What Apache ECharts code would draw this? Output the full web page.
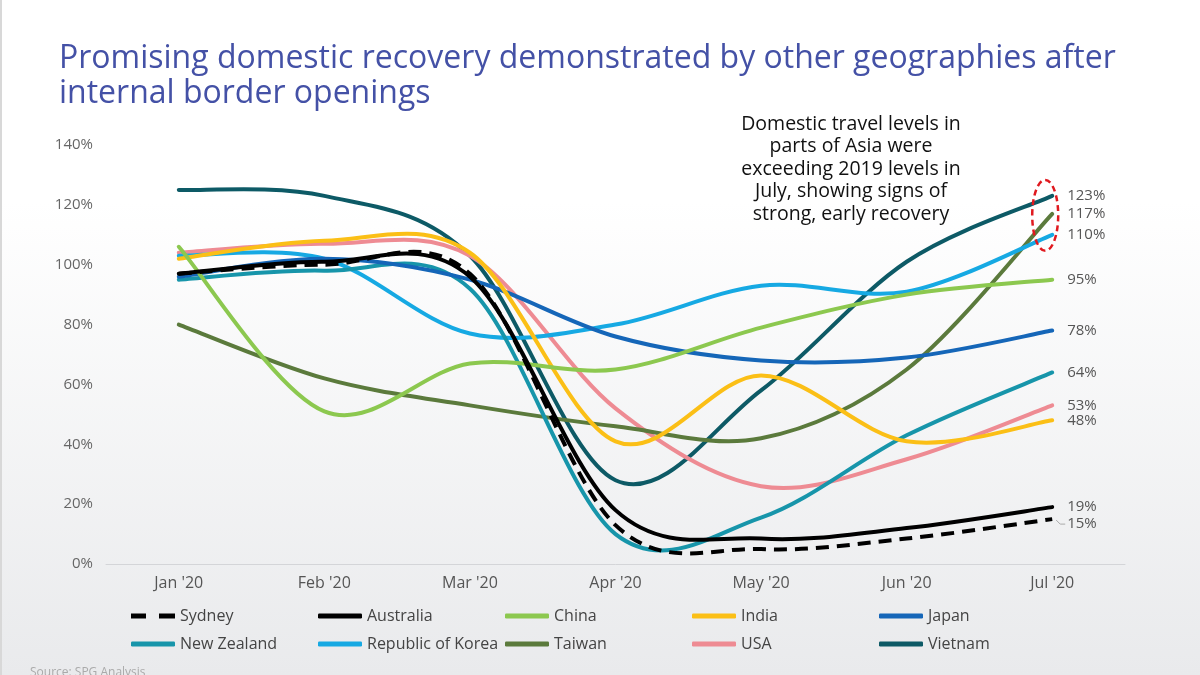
<!DOCTYPE html>
<html>
<head>
<meta charset="utf-8">
<script src="https://cdn.jsdelivr.net/npm/echarts@6/dist/echarts.min.js"></script>
<style>
html,body{margin:0;padding:0;width:1200px;height:675px;overflow:hidden;}
#chart{width:1200px;height:675px;background:linear-gradient(to bottom,#ffffff 0%,#ffffff 30%,#e9eaec 100%);}
</style>
</head>
<body>
<div id="chart"></div>
<script>
const months = ["Jan '20", "Feb '20", "Mar '20", "Apr '20", "May '20", "Jun '20", "Jul '20"];
const yTicks = [0, 20, 40, 60, 80, 100, 120, 140];

const sydney      = [97, 100, 97, 13, 5, 8.5, 15];
const australia   = [97, 101, 96, 18, 8.5, 12, 19];
const china       = [106, 51, 67, 65, 79, 90, 95];
const india       = [102, 108, 104, 41, 63, 41, 48];
const japan       = [96, 102, 95, 76, 68, 69, 78];
const newZealand  = [95, 98, 92, 10, 15.5, 43, 64];
const korea       = [103, 102, 77, 80, 93, 91, 110];
const taiwan      = [80, 62, 53, 46, 42, 65, 117];
const usa         = [104, 107, 103, 52, 26, 35, 53];
const vietnam     = [125, 123, 103, 28, 58, 101, 123];

const seriesNames = ["Sydney", "Australia", "China", "India", "Japan", "New Zealand", "Republic of Korea", "Taiwan", "USA", "Vietnam"];
const seriesData = [sydney, australia, china, india, japan, newZealand, korea, taiwan, usa, vietnam];
const seriesColors = ["#000000", "#000000", "#8cc84f", "#fbbf16", "#1566b8", "#1795aa", "#16a9e3", "#5b7a3c", "#ee8b93", "#0d5a66"];

const titleText = "Promising domestic recovery demonstrated by other geographies after\ninternal border openings";
const noteText = "Domestic travel levels in\nparts of Asia were\nexceeding 2019 levels in\nJuly, showing signs of\nstrong, early recovery";
const sourceText = "Source: SPG Analysis";

const FONT = '"Open Sans", Lato, sans-serif';

const chart = echarts.init(document.getElementById('chart'), null, {renderer: 'canvas'});

// Smooth (Catmull-Rom style) path through the data points, positioned with the axes' scales
function makeRenderer(values, color, name) {
  return function (params, api) {
    if (params.dataIndex !== 0) return null;
    const pts = values.map((v, i) => api.coord([i, v]));
    let d = 'M' + pts[0][0] + ',' + pts[0][1];
    for (let i = 0; i < pts.length - 1; i++) {
      const p0 = pts[i - 1] || pts[i];
      const p1 = pts[i];
      const p2 = pts[i + 1];
      const p3 = pts[i + 2] || pts[i + 1];
      const c1x = p1[0] + (p2[0] - p0[0]) / 6;
      const c1y = p1[1] + (p2[1] - p0[1]) / 6;
      const c2x = p2[0] - (p3[0] - p1[0]) / 6;
      const c2y = p2[1] - (p3[1] - p1[1]) / 6;
      d += ' C' + c1x + ',' + c1y + ' ' + c2x + ',' + c2y + ' ' + p2[0] + ',' + p2[1];
    }
    const last = pts[pts.length - 1];
    const isSyd = name === 'Sydney';
    const children = [
      {
        type: 'path',
        shape: {pathData: d},
        style: {
          fill: null,
          stroke: color,
          lineWidth: 4,
          lineDash: isSyd ? [13, 8] : null,
          lineCap: isSyd ? 'butt' : 'round',
          lineJoin: 'round'
        }
      },
      {
        type: 'text',
        style: {
          text: values[values.length - 1] + '%',
          x: last[0] + 15,
          y: last[1] + (isSyd ? 5 : 0),
          verticalAlign: 'middle',
          fill: '#555',
          font: '15px ' + FONT
        }
      }
    ];
    if (isSyd) {
      children.push({
        type: 'polyline',
        shape: {points: [[last[0] + 4, last[1] + 1], [last[0] + 8, last[1] + 5], [last[0] + 13, last[1] + 5]]},
        style: {stroke: '#aaa', lineWidth: 1, fill: null}
      });
    }
    return {type: 'group', children: children};
  };
}

const series = seriesNames.map((name, i) => ({
  name: name,
  type: 'custom',
  coordinateSystem: 'cartesian2d',
  data: seriesData[i].map((v, j) => [j, v]),
  encode: {x: 0, y: 1},
  renderItem: makeRenderer(seriesData[i], seriesColors[i], name),
  itemStyle: {color: seriesColors[i]},
  z: 10 - i,
  silent: true,
  clip: false
}));

const legendData = seriesNames.map(name => ({
  name: name,
  icon: name === 'Sydney' ? 'path://M0,0h15v5h-15z M28,0h16v5h-16z' : 'roundRect'
}));

const baseGraphic = [
  {
    type: 'text',
    style: {
      text: noteText,
      x: 851,
      y: 113,
      textAlign: 'center',
      fill: '#111',
      font: '19.5px ' + FONT,
      lineHeight: 22.5
    }
  },
  {
    type: 'text',
    style: {
      text: sourceText,
      x: 30,
      y: 667,
      fill: '#aaa',
      font: '12px ' + FONT
    }
  },
  {
    type: 'rect',
    shape: {x: 0, y: 0, width: 2, height: 675},
    style: {fill: '#d8d8d8'}
  }
];

const option = {
  backgroundColor: 'transparent',
  animation: false,
  title: {
    text: titleText,
    left: 54,
    top: 36,
    textStyle: {
      color: '#4451a6',
      fontFamily: FONT,
      fontWeight: 'normal',
      fontSize: 32,
      lineHeight: 35
    }
  },
  grid: {left: 106, right: 75, top: 145, bottom: 111, containLabel: false},
  xAxis: {
    type: 'category',
    data: months,
    boundaryGap: ['7%', '7%'],
    axisLine: {show: true, lineStyle: {color: '#d4d5d8', width: 1}},
    axisTick: {show: false},
    axisLabel: {
      color: '#555',
      fontFamily: FONT,
      fontSize: 16,
      margin: 11
    }
  },
  yAxis: {
    type: 'value',
    min: 0,
    max: 140,
    interval: 20,
    axisLine: {show: false},
    axisTick: {show: false},
    splitLine: {show: false},
    axisLabel: {
      color: '#666',
      fontFamily: FONT,
      fontSize: 15,
      margin: 13,
      formatter: v => v + '%'
    }
  },
  legend: {
    left: 131,
    top: 602,
    width: 950,
    itemGap: 0,
    itemWidth: 44,
    itemHeight: 5,
    padding: 0,
    data: legendData,
    textStyle: {
      color: '#444',
      fontFamily: FONT,
      fontSize: 16,
      width: 138,
      overflow: 'truncate',
      lineHeight: 28
    },
    selectedMode: false
  },
  graphic: baseGraphic,
  series: series
};

chart.setOption(option);

// Red dashed ellipse around the July peaks, positioned from the axes
const pTop = chart.convertToPixel({xAxisIndex: 0, yAxisIndex: 0}, [6, vietnam[6]]);
const pBot = chart.convertToPixel({xAxisIndex: 0, yAxisIndex: 0}, [6, korea[6]]);
chart.setOption({
  graphic: baseGraphic.concat([{
    type: 'ellipse',
    shape: {cx: pTop[0] - 7, cy: (pTop[1] + pBot[1]) / 2, rx: 13, ry: (pBot[1] - pTop[1]) / 2 + 16},
    style: {fill: 'none', stroke: '#e0191f', lineWidth: 2.5, lineDash: [6, 4]},
    z: 100
  }])
});
</script>
</body>
</html>
